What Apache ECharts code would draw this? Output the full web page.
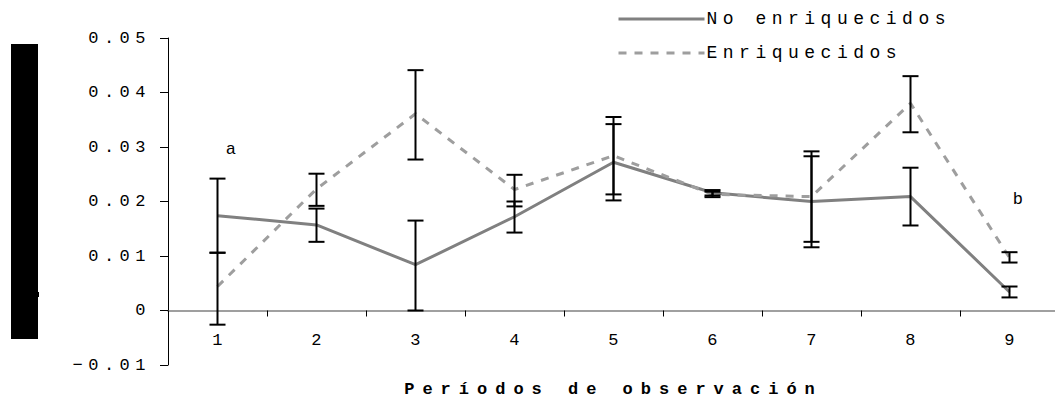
<!DOCTYPE html>
<html>
<head>
<meta charset="utf-8">
<script src="https://cdn.jsdelivr.net/npm/echarts@6/dist/echarts.min.js"></script>
<style>
  html, body { margin: 0; padding: 0; background: #fff; }
  #chart { width: 1055px; height: 403px; }
  #chart text { letter-spacing: 5.5px; }
  #chart text[style*="bold"] { letter-spacing: 8px; }
</style>
</head>
<body>
<div id="chart"></div>
<script>
var categories = ['1', '2', '3', '4', '5', '6', '7', '8', '9'];
var noEnriquecidos = [0.0174, 0.0157, 0.0084, 0.0172, 0.0272, 0.0216, 0.0200, 0.0209, 0.0034];
var enriquecidos   = [0.0044, 0.0223, 0.0361, 0.0222, 0.0284, 0.0213, 0.0209, 0.0380, 0.0097];
var noEnrLow  = [0.0106, 0.0126, 0.0000, 0.0143, 0.0202, 0.0211, 0.0116, 0.0156, 0.0024];
var noEnrHigh = [0.0242, 0.0187, 0.0165, 0.0200, 0.0342, 0.0221, 0.0283, 0.0262, 0.0044];
var enrLow    = [-0.0026, 0.0192, 0.0277, 0.0191, 0.0213, 0.0208, 0.0126, 0.0327, 0.0088];
var enrHigh   = [0.0106, 0.0251, 0.0441, 0.0249, 0.0355, 0.0218, 0.0292, 0.0430, 0.0107];
var seriesNames = ['No enriquecidos', 'Enriquecidos'];
var xAxisTitle = 'Períodos de observación';
var yMin = -0.01, yMax = 0.05, yInterval = 0.01;

var FONT = 'Liberation Mono';

function errData(lo, hi) {
  return categories.map(function (c, i) { return [i, lo[i], hi[i]]; });
}
function renderErr(params, api) {
  var x = api.value(0);
  var lo = api.coord([x, api.value(1)]);
  var hi = api.coord([x, api.value(2)]);
  var hw = 8;
  var st = { stroke: '#000', lineWidth: 2 };
  return {
    type: 'group',
    children: [
      { type: 'line', shape: { x1: lo[0], y1: lo[1], x2: hi[0], y2: hi[1] }, style: st },
      { type: 'line', shape: { x1: lo[0] - hw, y1: lo[1], x2: lo[0] + hw, y2: lo[1] }, style: st },
      { type: 'line', shape: { x1: hi[0] - hw, y1: hi[1], x2: hi[0] + hw, y2: hi[1] }, style: st }
    ]
  };
}

var hiddenSymbol = { color: 'rgba(0,0,0,0)', borderWidth: 0, borderColor: 'rgba(0,0,0,0)' };

var chart = echarts.init(document.getElementById('chart'), null, { renderer: 'svg' });
chart.setOption({
  animation: false,
  backgroundColor: '#fff',
  textStyle: { fontFamily: FONT },
  grid: { left: 168, top: 38, width: 891, bottom: 38, outerBoundsMode: 'none', containLabel: false },
  legend: {
    orient: 'vertical',
    left: 612,
    top: 5,
    itemWidth: 86,
    itemHeight: 14,
    itemGap: 16,
    textStyle: { fontFamily: FONT, fontSize: 18, color: '#000', padding: [0, 0, 0, -3] },
    data: [
      { name: seriesNames[0], itemStyle: hiddenSymbol, lineStyle: { color: '#808080', width: 3, type: 'solid' } },
      { name: seriesNames[1], itemStyle: hiddenSymbol, lineStyle: { color: '#9e9e9e', width: 3, type: [8, 8] } }
    ]
  },
  xAxis: {
    type: 'category',
    data: categories,
    boundaryGap: true,
    axisLine: { onZero: true, lineStyle: { color: '#808080', width: 1.5 } },
    axisTick: { show: true, length: 6, inside: false, lineStyle: { color: '#000', width: 1 } },
    axisLabel: { fontFamily: FONT, fontSize: 17, color: '#000', margin: -33, padding: [0, 0, 0, 5] },
    name: xAxisTitle,
    nameLocation: 'middle',
    nameGap: 16,
    nameTextStyle: { fontFamily: FONT, fontSize: 17, fontWeight: 'bold', color: '#000', verticalAlign: 'top' },
    splitLine: { show: false }
  },
  yAxis: {
    type: 'value',
    min: yMin,
    max: yMax,
    interval: yInterval,
    axisLine: { show: true, lineStyle: { color: '#000', width: 1 } },
    axisTick: { show: true, length: 8, lineStyle: { color: '#000', width: 1 } },
    axisLabel: {
      fontFamily: FONT, fontSize: 17, color: '#000', margin: 17,
      formatter: function (v) {
        var r = Math.round(v * 100) / 100;
        if (r === 0) return '0';
        return r.toFixed(2).replace('-', '\u2212');
      }
    },
    splitLine: { show: false }
  },
  graphic: [
    { type: 'rect', left: 11, top: 44, shape: { width: 27, height: 295 }, style: { fill: '#000' } },
    { type: 'rect', left: 37, top: 292, shape: { width: 2, height: 5 }, style: { fill: '#000' } }
  ],
  series: [
    {
      name: seriesNames[0],
      type: 'line',
      data: noEnriquecidos,
      symbol: 'none',
      lineStyle: { color: '#808080', width: 3, type: 'solid' },
      itemStyle: { color: '#808080' },
      z: 3,
      markPoint: {
        symbol: 'rect', symbolSize: 1, itemStyle: { color: 'rgba(0,0,0,0)' },
        label: { show: true, position: 'inside', fontFamily: FONT, fontSize: 17, color: '#000', formatter: '{b}' },
        data: [
          { name: 'a', coord: ['1', 0.0295], label: { offset: [16, 0] } },
          { name: 'b', coord: ['9', 0.0203], label: { offset: [11, 0] } }
        ]
      }
    },
    {
      name: seriesNames[1],
      type: 'line',
      data: enriquecidos,
      symbol: 'none',
      lineStyle: { color: '#9e9e9e', width: 3, type: [8, 8] },
      itemStyle: { color: '#9e9e9e' },
      z: 3
    },
    {
      type: 'custom',
      name: 'err1',
      renderItem: renderErr,
      data: errData(noEnrLow, noEnrHigh),
      z: 4,
      silent: true
    },
    {
      type: 'custom',
      name: 'err2',
      renderItem: renderErr,
      data: errData(enrLow, enrHigh),
      z: 4,
      silent: true
    }
  ]
});
</script>
</body>
</html>
